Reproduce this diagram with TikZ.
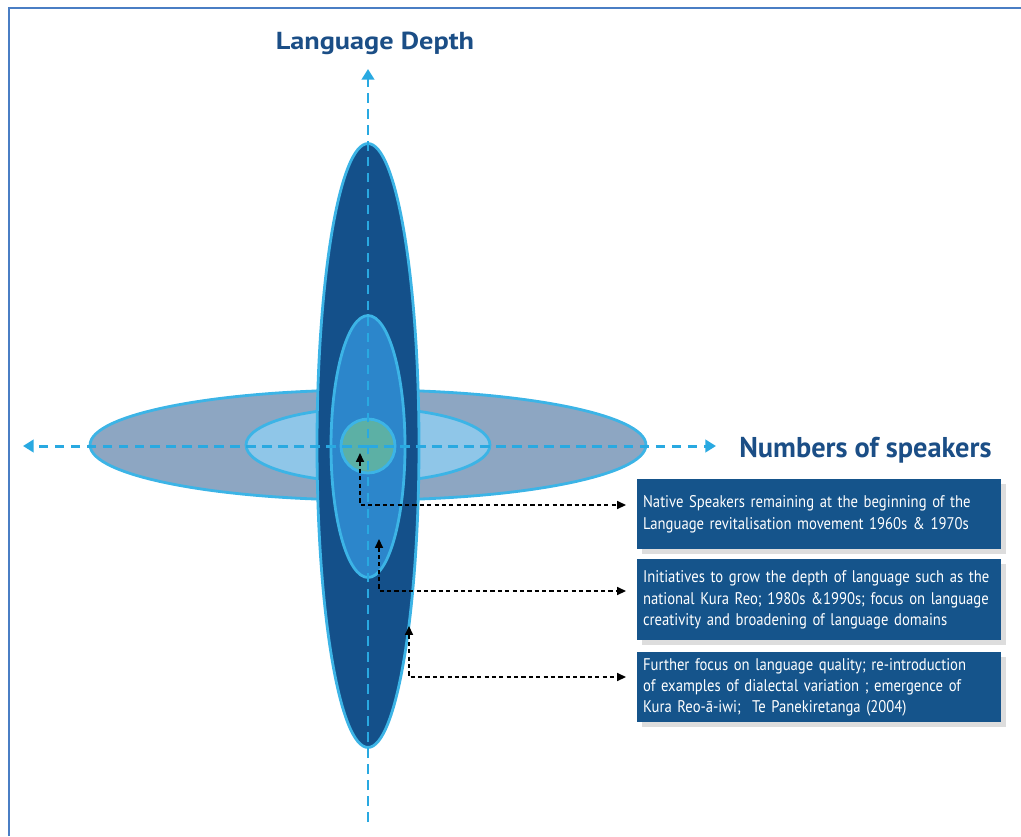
\documentclass[tikz,border=0pt]{standalone}
\usepackage{fontspec}
\setmainfont{PT Sans}
\newfontfamily\boxfont[FakeStretch=0.87]{PT Sans}
\newfontfamily\titlefont[FakeStretch=1.15]{PT Sans Bold}
\newfontfamily\speakfont[FakeStretch=0.99]{PT Sans Bold}
\newcommand\myboxtext{\boxfont\fontsize{9.6}{12.2}\selectfont\hyphenpenalty=10000\relax\exhyphenpenalty=10000\relax}
\usetikzlibrary{arrows.meta,shadows}
\definecolor{darkblue}{HTML}{14508A}
\definecolor{boxblue}{HTML}{15548B}
\definecolor{rim}{HTML}{3CB4E6}
\definecolor{grayblue}{HTML}{8DA6C2}
\definecolor{paleblue}{HTML}{8FC6E8}
\definecolor{midblue}{HTML}{2C86CB}
\definecolor{teal}{HTML}{5CB0A5}
\definecolor{axisblue}{HTML}{29A9E1}
\definecolor{headblue}{HTML}{1B4E86}
\definecolor{frame}{HTML}{4A7EC4}
\tikzset{
  blob/.style={draw=rim, line width=1.6pt},
  axis/.style={axisblue, line width=1.7pt, dash pattern=on 5.5pt off 3.6pt,
    -{Triangle[length=6pt,width=7pt]}},
  conn/.style={black, line width=0.8pt, dash pattern=on 2.4pt off 1.8pt,
    {Triangle[length=5pt,width=4.5pt]}-{Triangle[length=5pt,width=4.5pt]}},
  infobox/.style={fill=boxblue, text=white,
    font=\myboxtext,
    align=left, anchor=north west, inner xsep=3.2pt, inner ysep=0pt,
    minimum width=7.28cm, text width=7.05cm,
    drop shadow={shadow xshift=2.5pt, shadow yshift=-2.5pt, opacity=0.22, fill=black!60}},
  heading/.style={text=headblue, inner sep=0pt}
}
\begin{document}
\begin{tikzpicture}[x=0.02cm, y=-0.02cm]
\useasboundingbox (0,0) rectangle (1021,836);
% frame
\draw[frame, line width=1.2pt] (9,836) -- (9,8) -- (1021,8);
% ellipses
\fill[grayblue, blob] (368,445) ellipse [x radius=5.56cm, y radius=1.10cm];
\fill[paleblue, blob] (368,445) ellipse [x radius=2.44cm, y radius=0.74cm];
\fill[darkblue, blob] (368,445.5) ellipse [x radius=1.02cm, y radius=6.04cm];
\fill[midblue, blob] (368,446.5) ellipse [x radius=0.74cm, y radius=2.62cm];
\fill[teal, blob] (368,446) circle [radius=0.54cm];
% axes
\coordinate (vb) at (368,822);
\coordinate (vt) at (368,69);
\coordinate (hc) at (368,446);
\coordinate (hl) at (23,446);
\coordinate (hr) at (716,446);
\draw[axis] (vb) -- (vt);
\draw[axis] (hc) -- (hl);
\draw[axis] (hc) -- (hr);
% headings
\node[heading, anchor=base, font=\titlefont\fontsize{14}{17}\selectfont] (depth) at (375,49) {Language Depth};
\node[heading, anchor=base west, font=\speakfont\fontsize{16.3}{20}\selectfont] (speakers) at (739,457) {Numbers of speakers};
% boxes
\node[infobox, minimum height=1.40cm] (b1) at (637,479)
  {Native Speakers remaining at the beginning of the\\Language revitalisation movement 1960s \& 1970s};
\node[infobox, minimum height=1.62cm] (b2) at (637,559)
  {Initiatives to grow the depth of language such as the\\national Kura Reo; 1980s \&1990s; focus on language\\creativity and broadening of language domains};
\node[infobox, minimum height=1.40cm] (b3) at (637,652)
  {Further focus on language quality; re-introduction\\of examples of dialectal variation ; emergence of\\Kura Reo-ā-iwi;\ \ Te Panekiretanga (2004)};
% connectors
\coordinate (t1) at (360,453);
\coordinate (t2) at (379,539);
\coordinate (t3) at (409,626);
\coordinate (e1) at (626,505);
\coordinate (e2) at (626,591);
\coordinate (e3) at (626,677);
\draw[conn] (t1) |- (e1);
\draw[conn] (t2) |- (e2);
\draw[conn] (t3) |- (e3);
\end{tikzpicture}
\end{document}
